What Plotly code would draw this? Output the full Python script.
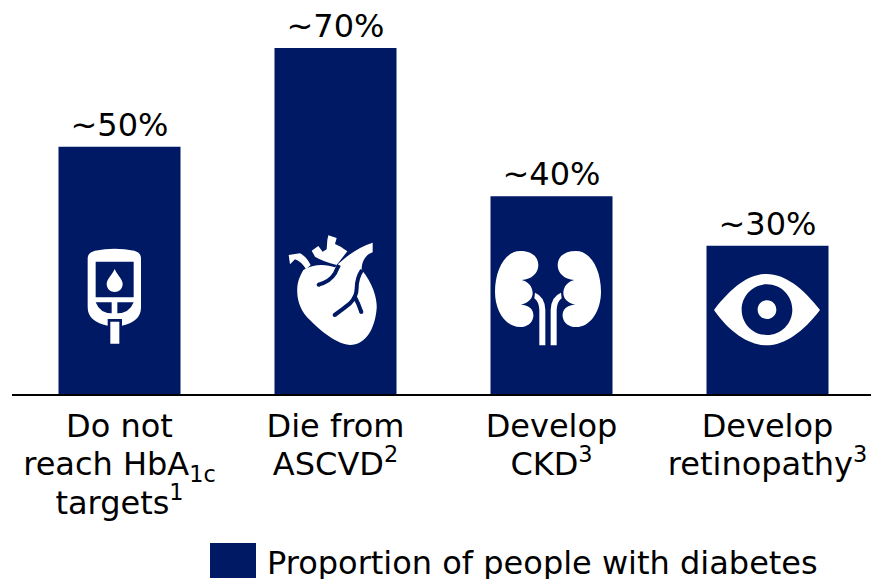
import re
import plotly.graph_objects as go

category_lines = [["Do not", "reach HbA<sub>1c</sub>", "targets<sup>1</sup>"],
                  ["Die from", "ASCVD<sup>2</sup>"],
                  ["Develop", "CKD<sup>3</sup>"],
                  ["Develop", "retinopathy<sup>3</sup>"]]
values = [50, 70, 40, 30]
value_labels = ["~50%", "~70%", "~40%", "~30%"]
series_name = "Proportion of people with diabetes"
positions = [0, 1, 2, 3]

NAVY = "#001965"
FONT = "Verdana, 'DejaVu Sans', sans-serif"
TEXT_SIZE = 32
W, H = 871, 579
ML, MR, MT, MB = 12, 0, 5, 185
UNIT = 216.0
PX_PER_PCT = 346 / 70
X0 = -107.5 / UNIT
X1 = X0 + (W - ML - MR) / UNIT
Y1 = (H - MT - MB) / PX_PER_PCT

ticktext = ["<br>".join(f'<span style="font-size:{TEXT_SIZE}px">{ln}</span>' for ln in lines)
            for lines in category_lines]


def circle(cx, cy, r):
    k = 0.5523 * r
    return (f"M {cx-r} {cy} C {cx-r} {cy-k} {cx-k} {cy-r} {cx} {cy-r} "
            f"C {cx+k} {cy-r} {cx+r} {cy-k} {cx+r} {cy} "
            f"C {cx+r} {cy+k} {cx+k} {cy+r} {cx} {cy+r} "
            f"C {cx-k} {cy+r} {cx-r} {cy+k} {cx-r} {cy} Z ")


def anchored(path, i, ox, oy):
    """Icon outline in 3x crop units -> pixel offsets from the bar centre on the baseline."""
    centre = ML + (positions[i] - X0) * UNIT
    base = H - MB
    out, is_x = [], True
    for tok in re.findall(r"[A-Za-z]|-?\d+\.?\d*", path):
        if tok.isalpha():
            out.append(tok)
            is_x = True
        else:
            v = float(tok)
            out.append(f"{ox + v / 3 - centre:.2f}" if is_x else f"{base - (oy + v / 3):.2f}")
            is_x = not is_x
    return " ".join(out)


def icon(path, i, ox, oy, fill="white", line=None, width=0):
    s = dict(type="path", xref="x", yref="y", xsizemode="pixel", ysizemode="pixel",
             xanchor=positions[i], yanchor=0, path=anchored(path, i, ox, oy), layer="above")
    if line:
        s.update(line=dict(color=line, width=width), fillcolor="rgba(0,0,0,0)")
    else:
        s.update(line=dict(width=0), fillcolor=fill)
    return s


meter = ("M 143 115 Q 143 98 165 92 Q 224 80 283 92 Q 303 98 303 115 L 303 262 Q 303 305 246 317 "
         "L 246 297 L 203 297 L 203 317 Q 143 305 143 262 Z "
         "M 167 125 L 281 125 L 281 232 L 167 232 Z "
         "M 224 147 C 232 165 248 178 248 192 C 248 207 236 216 224 216 C 212 216 200 207 200 192 C 200 178 216 165 224 147 Z "
         "M 167 247 L 215 247 L 215 280 Q 180 280 167 247 Z "
         "M 232 247 L 281 247 Q 268 280 232 280 Z "
         "M 211 305 L 238 305 L 238 371 L 211 371 Z")
heart_body = ("M 790 150 C 820 130 860 132 885 142 C 920 105 960 80 998 68 L 998 97 C 975 105 965 125 965 150 "
              "C 1000 190 1012 240 1010 265 C 1005 330 975 375 930 375 C 880 370 830 320 800 290 "
              "C 775 260 770 230 772 200 C 775 175 785 160 790 150 Z")
heart_top = ("M 746 105 L 780 100 Q 800 110 812 135 L 798 148 Q 785 125 765 118 L 750 133 Z "
             "M 815 92 L 835 78 L 848 95 L 860 88 L 862 60 L 865 46 L 890 54 L 885 72 L 902 80 L 922 94 "
             "L 890 135 Q 850 125 825 110 Z")
heart_grooves = ("M 836 194 Q 870 185 885 160 Q 890 148 897 135 "
                 "M 966 150 Q 950 175 950 205 Q 950 230 930 250 Q 905 270 884 285 "
                 "M 945 232 Q 955 250 964 276")
groove_ends = circle(836, 194, 6) + circle(884, 285, 6) + circle(964, 276, 6)
kidney_l = ("M 150 63 C 185 63 205 80 205 105 C 205 130 185 148 155 150 C 175 155 188 170 188 190 "
            "C 188 205 175 220 152 224 C 180 225 192 240 190 260 C 187 280 170 291 150 291 "
            "C 105 291 75 240 75 185 C 75 120 105 63 150 63 Z "
            "M 195 188 Q 225 200 226 240 L 226 346 L 208 346 L 208 240 Q 207 215 193 205 Z")
kidney_r = ("M 318 63 C 283 63 263 80 263 105 C 263 130 283 148 313 150 C 293 155 280 170 280 190 "
            "C 280 205 293 220 316 224 C 288 225 276 240 278 260 C 281 280 298 291 318 291 "
            "C 363 291 393 240 393 185 C 393 120 363 63 318 63 Z "
            "M 273 188 Q 243 200 242 240 L 242 346 L 260 346 L 260 240 Q 261 215 275 205 Z")
eye = ("M 732 240 C 790 165 840 132 890 132 C 945 132 1000 175 1050 240 "
       "C 1000 305 945 346 890 346 C 840 346 780 310 732 240 Z "
       + circle(891, 239, 76) + circle(891, 239, 28))

shapes = [
    icon(meter, 0, 40, 220),
    icon(heart_body, 1, 40, 220),
    icon(heart_top, 1, 40, 220),
    icon(heart_grooves, 1, 40, 220, line=NAVY, width=4),
    icon(groove_ends, 1, 40, 220, fill=NAVY),
    icon(kidney_l, 2, 470, 230),
    icon(kidney_r, 2, 470, 230),
    icon(eye, 3, 470, 230),
    # enlarged legend swatch
    dict(type="rect", xref="paper", yref="paper",
         x0=(210 - ML) / (W - ML - MR), x1=(256 - ML) / (W - ML - MR),
         y0=-(578 - (H - MB)) / (H - MT - MB), y1=-(543 - (H - MB)) / (H - MT - MB),
         fillcolor=NAVY, line=dict(width=0), layer="below"),
]

fig = go.Figure(go.Bar(
    x=positions, y=values, name=series_name, text=value_labels,
    textposition="outside", cliponaxis=False, width=122 / UNIT,
    marker=dict(color=NAVY, line=dict(width=0)),
    textfont=dict(family=FONT, size=TEXT_SIZE, color="black"),
    showlegend=True,
))

fig.update_layout(
    width=W, height=H, autosize=False,
    margin=dict(l=ML, r=MR, t=MT, b=MB, pad=0, autoexpand=False),
    paper_bgcolor="white", plot_bgcolor="white",
    font=dict(family=FONT, size=TEXT_SIZE, color="black"),
    shapes=shapes,
    showlegend=True,
    legend=dict(orientation="h", x=(227 - ML) / (W - ML - MR), xanchor="left",
                y=-(534 - (H - MB)) / (H - MT - MB), yanchor="top",
                bgcolor="rgba(0,0,0,0)", borderwidth=0,
                font=dict(family=FONT, size=TEXT_SIZE, color="black"), itemwidth=30),
    xaxis=dict(range=[X0, X1], tickmode="array", tickvals=positions, ticktext=ticktext,
               showgrid=False, zeroline=False, showline=True, linecolor="black", linewidth=2,
               ticks="outside", ticklen=5, tickcolor="rgba(0,0,0,0)",
               tickfont=dict(family=FONT, size=29.7, color="black")),
    yaxis=dict(range=[0, Y1], visible=False, showgrid=False, zeroline=False),
)

fig.write_html("out.html", config=dict(displayModeBar=False),
               post_script="document.body.style.margin='0';")
